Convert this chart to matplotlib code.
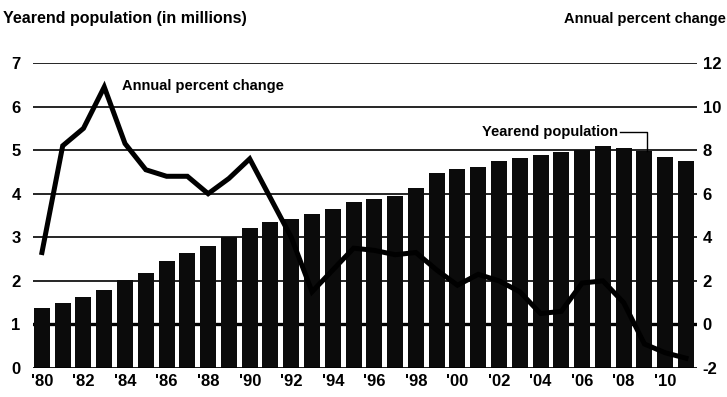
import matplotlib
matplotlib.use('Agg')
from matplotlib import pyplot as plt
import numpy as np

plt.rcParams['font.family'] = ['Liberation Sans', 'DejaVu Sans']
plt.rcParams['font.weight'] = 'bold'
plt.rcParams['axes.unicode_minus'] = False

years = np.arange(1980, 2012)

# yearend population, millions
population = [1.38, 1.50, 1.62, 1.80, 2.02, 2.19, 2.45, 2.64, 2.79, 3.00,
              3.22, 3.35, 3.43, 3.53, 3.66, 3.80, 3.87, 3.95, 4.12, 4.48,
              4.56, 4.62, 4.74, 4.82, 4.89, 4.95, 5.00, 5.10, 5.06, 4.98,
              4.84, 4.76]

# annual percent change
pct_change = [3.3, 8.2, 9.0, 10.9, 8.3, 7.1, 6.8, 6.8, 6.0, 6.7,
              7.6, 5.8, 4.0, 1.5, 2.5, 3.5, 3.4, 3.2, 3.3, 2.5,
              1.8, 2.3, 2.0, 1.5, 0.5, 0.6, 1.9, 2.0, 1.0, -0.9,
              -1.3, -1.55]

xtick_years = list(range(1980, 2011, 2))
xtick_labels = ["'%02d" % (y % 100) for y in xtick_years]

W, H = 727, 397
fig = plt.figure(figsize=(W / 100, H / 100), dpi=100)
ax = fig.add_axes([33 / W, 29 / H, (697 - 33) / W, (368 - 63) / H])

# grid lines behind the bars, the one at 0 percent is heavier
for v in range(1, 8):
    ax.axhline(v, color='black', lw=2.4 if v == 1 else 1.2, zorder=0)

ax.bar(years, population, width=0.77, color='#0b0b0b', zorder=2)
ax.axhline(0, color='black', lw=2.0, zorder=3)

ax.set_xlim(1979.57, 2011.53)
ax.set_ylim(0, 7)
ax.set_yticks(range(0, 8))
ax.set_xticks(xtick_years)
ax.set_xticklabels(xtick_labels)
ax.tick_params(axis='both', length=0, labelsize=12)
ax.tick_params(axis='y', pad=9)
ax.tick_params(axis='x', pad=4)
for s in ax.spines.values():
    s.set_visible(False)

ax2 = ax.twinx()
ax2.plot(years, pct_change, color='black', lw=3.6, solid_joinstyle='miter',
         zorder=5)
ax2.set_ylim(-2, 12)
ax2.set_yticks(range(-2, 13, 2))
ax2.tick_params(axis='y', length=0, labelsize=12, pad=4)
for s in ax2.spines.values():
    s.set_visible(False)

ax2.text(1983.85, 10.95, 'Annual percent change', fontsize=10.5,
         fontweight='bold', ha='left', va='center')

# label with leader to the 2009 bar
ax.text(2007.75, 5.42, 'Yearend population', fontsize=10.5,
        fontweight='bold', ha='right', va='center')
ax.plot([2007.8, 2009.1, 2009.1], [5.42, 5.42, population[29]],
        color='black', lw=1.0, zorder=4)

fig.text(3 / W, 1 - 19 / H, 'Yearend population (in millions)',
         fontsize=11.5, fontweight='bold', ha='left', va='center')
fig.text(726 / W, 1 - 19 / H, 'Annual percent change',
         fontsize=10.5, fontweight='bold', ha='right', va='center')

fig.savefig('out.png', dpi=100)
